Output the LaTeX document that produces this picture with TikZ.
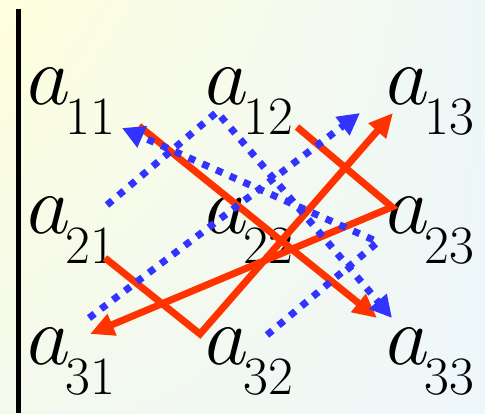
\RequirePackage{fix-cm}
\documentclass[tikz,border=0pt]{standalone}
\usetikzlibrary{arrows.meta,shadings}
\definecolor{sarred}{HTML}{FF3300}
\definecolor{sarblue}{HTML}{3333FF}
\definecolor{bgyellow}{RGB}{255,255,221}
\definecolor{bgcyan}{RGB}{238,247,248}
\definecolor{bggreen}{RGB}{243,249,236}
\definecolor{bgblue}{RGB}{238,247,250}
\newcommand{\elem}[1]{$a$\kern-2.5pt\raisebox{-15pt}{\fontsize{27}{30}\selectfont #1}}

\begin{document}
\begin{tikzpicture}[x=0.5pt,y=-0.5pt,
    entry/.style={anchor=base west,inner sep=0pt,font=\fontsize{42}{45}\selectfont},
    plusline/.style={draw=sarred,line width=3.5pt,-{Triangle[length=12pt,width=11pt]}},
    minusline/.style={draw=sarblue,line width=3.5pt,dash pattern=on 3.5pt off 4pt,-{Triangle[length=11pt,width=11pt]}}]
  % background and left bar
  \shade[upper left=bgyellow,upper right=bgcyan,lower left=bggreen,lower right=bgblue]
    (0,0) rectangle (485,413);
  \draw[line width=2.5pt] (18.5,9) -- (18.5,413);
  % entries
  \node[entry] (a11) at (27,105) {\elem{11}};
  \node[entry] (a12) at (205,105) {\elem{12}};
  \node[entry] (a13) at (386,105) {\elem{13}};
  \node[entry] (a21) at (27,234) {\elem{21}};
  \node[entry] (a22) at (205,234) {\elem{22}};
  \node[entry] (a23) at (386,234) {\elem{23}};
  \node[entry] (a31) at (27,364) {\elem{31}};
  \node[entry] (a32) at (205,364) {\elem{32}};
  \node[entry] (a33) at (386,364) {\elem{33}};
  % line ends
  \coordinate (r11) at (139,126);
  \coordinate (r12) at (297,127);
  \coordinate (r13) at (393,113);
  \coordinate (r21) at (105,258);
  \coordinate (r23) at (392,207);
  \coordinate (r31) at (90,334);
  \coordinate (r32) at (200,334);
  \coordinate (r33) at (377,318);
  \coordinate (b11) at (122,128);
  \coordinate (b12) at (217,112);
  \coordinate (b13) at (360,113);
  \coordinate (b21) at (107,205);
  \coordinate (b23) at (378,242);
  \coordinate (b31) at (89,318);
  \coordinate (b32) at (267,335);
  \coordinate (b33) at (392,318);
  % positive terms
  \draw[plusline] (r11) -- (r33);
  \draw[plusline] (r21) -- (r32) -- (r13);
  \draw[plusline] (r12) -- (r23) -- (r31);
  % negative terms
  \draw[minusline] (b31) -- (b13);
  \draw[minusline] (b21) -- (b12) -- (b33);
  \draw[minusline] (b32) -- (b23) -- (b11);
\end{tikzpicture}
\end{document}
